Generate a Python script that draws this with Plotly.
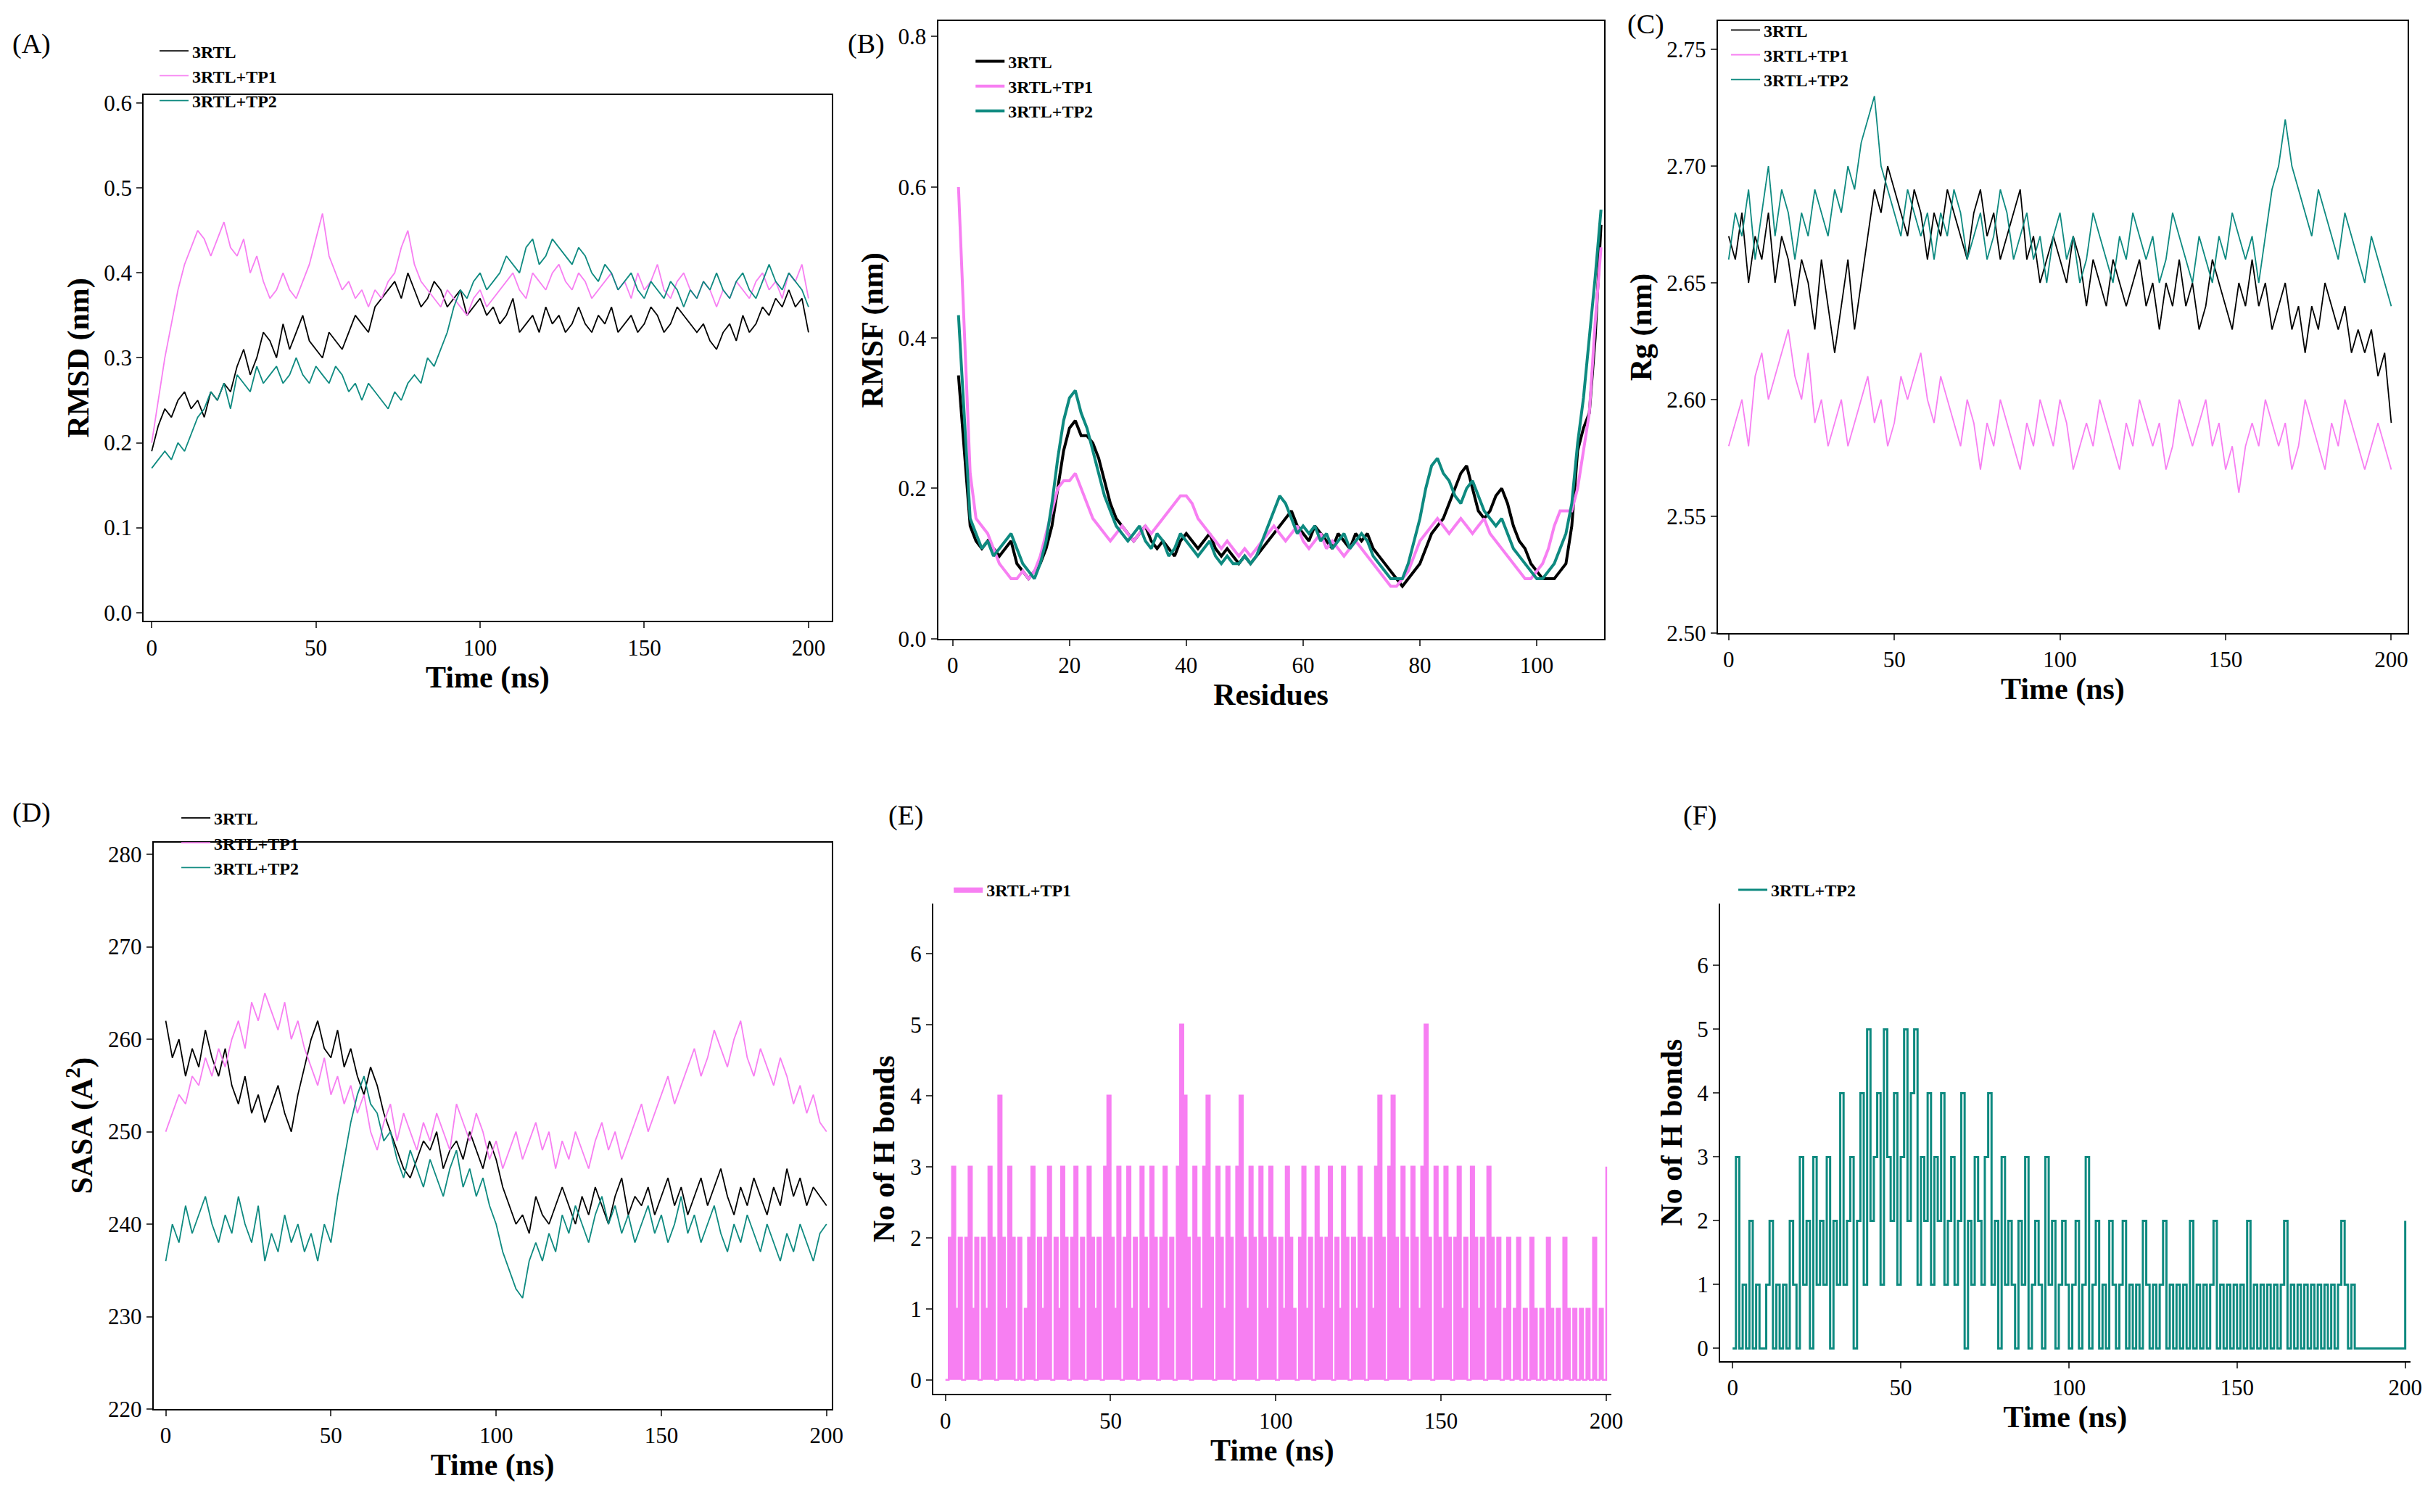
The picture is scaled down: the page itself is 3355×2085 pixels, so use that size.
import plotly.graph_objects as go

# ---- data (every 2 ns) ----
time = list(range(0, 202, 2))

rmsd_3rtl = [0.19,0.22,0.24,0.23,0.25,0.26,0.24,0.25,0.23,0.26,0.25,0.27,0.26,0.29,0.31,0.28,0.30,0.33,0.32,0.30,
             0.34,0.31,0.33,0.35,0.32,0.31,0.30,0.33,0.32,0.31,0.33,0.35,0.34,0.33,0.36,0.37,0.38,0.39,0.37,0.40,
             0.38,0.36,0.37,0.39,0.38,0.36,0.37,0.38,0.35,0.36,0.37,0.35,0.36,0.34,0.35,0.37,0.33,0.34,0.35,0.33,
             0.36,0.34,0.35,0.33,0.34,0.36,0.34,0.33,0.35,0.34,0.36,0.33,0.34,0.35,0.33,0.34,0.36,0.35,0.33,0.34,
             0.36,0.35,0.34,0.33,0.34,0.32,0.31,0.33,0.34,0.32,0.35,0.33,0.34,0.36,0.35,0.37,0.36,0.38,0.36,0.37,0.33]
rmsd_tp1 = [0.20,0.25,0.30,0.34,0.38,0.41,0.43,0.45,0.44,0.42,0.44,0.46,0.43,0.42,0.44,0.40,0.42,0.39,0.37,0.38,
            0.40,0.38,0.37,0.39,0.41,0.44,0.47,0.42,0.40,0.38,0.39,0.37,0.38,0.36,0.38,0.37,0.39,0.40,0.43,0.45,
            0.41,0.39,0.38,0.37,0.36,0.38,0.37,0.36,0.35,0.37,0.38,0.36,0.37,0.38,0.39,0.40,0.38,0.37,0.40,0.39,
            0.38,0.40,0.41,0.39,0.38,0.40,0.39,0.37,0.38,0.39,0.40,0.38,0.39,0.37,0.40,0.38,0.39,0.41,0.38,0.37,
            0.39,0.40,0.38,0.37,0.39,0.38,0.36,0.38,0.37,0.39,0.38,0.37,0.39,0.40,0.38,0.39,0.37,0.40,0.39,0.41,0.37]
rmsd_tp2 = [0.17,0.18,0.19,0.18,0.20,0.19,0.21,0.23,0.24,0.26,0.25,0.27,0.24,0.28,0.27,0.26,0.29,0.27,0.28,0.29,
            0.27,0.28,0.30,0.28,0.27,0.29,0.28,0.27,0.29,0.28,0.26,0.27,0.25,0.27,0.26,0.25,0.24,0.26,0.25,0.27,
            0.28,0.27,0.30,0.29,0.31,0.33,0.36,0.38,0.37,0.39,0.40,0.38,0.39,0.40,0.42,0.41,0.40,0.43,0.44,0.41,
            0.42,0.44,0.43,0.42,0.41,0.43,0.42,0.40,0.39,0.41,0.40,0.38,0.39,0.40,0.38,0.37,0.39,0.38,0.37,0.39,
            0.38,0.36,0.38,0.37,0.39,0.38,0.40,0.38,0.37,0.39,0.40,0.38,0.37,0.39,0.41,0.39,0.38,0.40,0.39,0.38,0.36]

rmsf_3rtl = [0.35,0.25,0.15,0.13,0.12,0.13,0.12,0.11,0.12,0.13,0.10,0.09,0.08,0.09,0.10,0.12,0.15,0.20,0.25,0.28,
             0.29,0.27,0.27,0.26,0.24,0.21,0.18,0.16,0.15,0.14,0.13,0.14,0.15,0.13,0.12,0.13,0.12,0.11,0.13,0.14,
             0.13,0.12,0.13,0.14,0.12,0.11,0.12,0.11,0.10,0.11,0.10,0.11,0.12,0.13,0.14,0.15,0.16,0.17,0.15,0.14,
             0.13,0.15,0.14,0.13,0.12,0.14,0.13,0.12,0.14,0.13,0.14,0.12,0.11,0.10,0.09,0.08,0.07,0.08,0.09,0.10,
             0.12,0.14,0.15,0.16,0.18,0.20,0.22,0.23,0.20,0.17,0.16,0.17,0.19,0.20,0.18,0.15,0.13,0.12,0.10,0.09,
             0.08,0.08,0.08,0.09,0.10,0.15,0.25,0.28,0.30,0.40,0.55]
rmsf_tp1 = [0.60,0.40,0.22,0.16,0.15,0.14,0.12,0.10,0.09,0.08,0.08,0.09,0.08,0.09,0.11,0.14,0.17,0.20,0.21,0.21,
            0.22,0.20,0.18,0.16,0.15,0.14,0.13,0.14,0.15,0.14,0.13,0.14,0.15,0.14,0.15,0.16,0.17,0.18,0.19,0.19,
            0.18,0.16,0.15,0.14,0.13,0.12,0.13,0.12,0.11,0.12,0.11,0.12,0.13,0.14,0.15,0.14,0.13,0.14,0.15,0.13,
            0.12,0.13,0.14,0.12,0.13,0.12,0.11,0.12,0.13,0.12,0.11,0.10,0.09,0.08,0.07,0.07,0.08,0.09,0.11,0.13,
            0.14,0.15,0.16,0.15,0.14,0.15,0.16,0.15,0.14,0.15,0.16,0.14,0.13,0.12,0.11,0.10,0.09,0.08,0.08,0.09,
            0.10,0.12,0.15,0.17,0.17,0.17,0.20,0.25,0.30,0.42,0.52]
rmsf_tp2 = [0.43,0.30,0.16,0.14,0.12,0.13,0.11,0.12,0.13,0.14,0.12,0.10,0.09,0.08,0.10,0.13,0.18,0.24,0.29,0.32,
            0.33,0.30,0.28,0.25,0.22,0.19,0.17,0.15,0.14,0.13,0.14,0.15,0.13,0.12,0.14,0.13,0.11,0.12,0.14,0.13,
            0.12,0.11,0.12,0.13,0.11,0.10,0.11,0.10,0.10,0.11,0.10,0.11,0.13,0.15,0.17,0.19,0.18,0.16,0.14,0.15,
            0.14,0.15,0.13,0.14,0.12,0.13,0.14,0.12,0.13,0.14,0.13,0.11,0.10,0.09,0.08,0.08,0.08,0.10,0.13,0.16,
            0.20,0.23,0.24,0.22,0.21,0.19,0.18,0.20,0.21,0.19,0.17,0.16,0.15,0.16,0.14,0.12,0.11,0.10,0.09,0.08,
            0.08,0.09,0.10,0.12,0.14,0.18,0.26,0.32,0.40,0.48,0.57]

rg_3rtl = [2.67,2.66,2.68,2.65,2.67,2.66,2.68,2.65,2.67,2.66,2.64,2.66,2.65,2.63,2.66,2.64,2.62,2.64,2.66,2.63,
           2.65,2.67,2.69,2.68,2.70,2.69,2.68,2.67,2.69,2.68,2.66,2.68,2.67,2.69,2.68,2.67,2.66,2.68,2.69,2.67,
           2.68,2.66,2.67,2.68,2.69,2.66,2.67,2.65,2.66,2.67,2.66,2.65,2.67,2.66,2.64,2.66,2.65,2.64,2.66,2.65,
           2.64,2.65,2.66,2.64,2.65,2.63,2.65,2.64,2.66,2.64,2.65,2.63,2.64,2.66,2.65,2.64,2.63,2.65,2.64,2.66,
           2.64,2.65,2.63,2.64,2.65,2.63,2.64,2.62,2.64,2.63,2.65,2.64,2.63,2.64,2.62,2.63,2.62,2.63,2.61,2.62,2.59]
rg_tp1 = [2.58,2.59,2.60,2.58,2.61,2.62,2.60,2.61,2.62,2.63,2.61,2.60,2.62,2.59,2.60,2.58,2.59,2.60,2.58,2.59,
          2.60,2.61,2.59,2.60,2.58,2.59,2.61,2.60,2.61,2.62,2.60,2.59,2.61,2.60,2.59,2.58,2.60,2.59,2.57,2.59,
          2.58,2.60,2.59,2.58,2.57,2.59,2.58,2.60,2.59,2.58,2.60,2.59,2.57,2.58,2.59,2.58,2.60,2.59,2.58,2.57,
          2.59,2.58,2.60,2.59,2.58,2.59,2.57,2.58,2.60,2.59,2.58,2.59,2.60,2.58,2.59,2.57,2.58,2.56,2.58,2.59,
          2.58,2.60,2.59,2.58,2.59,2.57,2.58,2.60,2.59,2.58,2.57,2.59,2.58,2.60,2.59,2.58,2.57,2.58,2.59,2.58,2.57]
rg_tp2 = [2.66,2.68,2.67,2.69,2.66,2.68,2.70,2.67,2.69,2.68,2.66,2.68,2.67,2.69,2.68,2.67,2.69,2.68,2.70,2.69,
          2.71,2.72,2.73,2.70,2.69,2.68,2.67,2.69,2.68,2.67,2.68,2.66,2.68,2.67,2.69,2.68,2.66,2.67,2.68,2.66,
          2.67,2.69,2.68,2.66,2.67,2.68,2.66,2.67,2.65,2.67,2.68,2.66,2.67,2.65,2.66,2.68,2.67,2.66,2.65,2.67,
          2.66,2.68,2.67,2.66,2.67,2.65,2.66,2.68,2.67,2.66,2.65,2.67,2.66,2.65,2.67,2.66,2.68,2.67,2.66,2.67,
          2.65,2.67,2.69,2.70,2.72,2.70,2.69,2.68,2.67,2.69,2.68,2.67,2.66,2.68,2.67,2.66,2.65,2.67,2.66,2.65,2.64]

sasa_3rtl = [262,258,260,256,259,257,261,258,256,259,255,253,256,252,254,251,253,255,252,250,
             254,257,260,262,259,258,261,257,259,256,254,257,255,252,250,248,246,245,247,249,
             248,250,246,248,249,247,250,248,246,249,247,244,242,240,241,239,243,241,240,242,
             244,242,240,243,241,244,242,240,243,245,241,243,242,244,241,243,245,242,244,241,
             243,245,242,244,246,243,241,244,242,245,243,241,244,242,246,243,245,242,244,243,242]
sasa_tp1 = [250,252,254,253,256,255,258,256,259,257,260,262,259,264,262,265,263,261,264,260,
            262,259,257,255,258,254,256,253,255,252,254,250,248,251,253,249,252,250,248,251,
            249,252,250,248,253,251,249,252,250,247,249,246,248,250,247,249,251,248,250,246,
            249,247,250,248,246,249,251,248,250,247,249,251,253,250,252,254,256,253,255,257,
            259,256,258,261,259,257,260,262,258,256,259,257,255,258,256,253,255,252,254,251,250]
sasa_tp2 = [236,240,238,242,239,241,243,240,238,241,239,243,240,238,242,236,239,237,241,238,
            240,237,239,236,240,238,243,247,251,254,256,253,252,249,250,247,245,248,246,244,
            247,245,243,246,248,244,246,243,245,242,240,237,235,233,232,236,238,236,239,237,
            241,239,242,240,238,241,243,240,242,239,241,238,240,242,239,241,238,240,243,239,
            241,238,240,242,239,237,240,238,241,239,237,240,238,236,239,237,240,238,236,239,240]

hb_time = list(range(0, 201))
hb_tp1 = [0,2,3,1,2,0,2,3,1,2,0,2,1,3,2,0,4,2,1,3,2,0,2,0,1,2,3,0,2,1,
          2,3,0,2,1,3,2,0,2,3,1,2,0,3,2,1,2,0,3,4,2,1,3,0,2,3,1,2,0,3,
          2,1,3,2,0,2,3,1,2,0,3,5,4,2,0,3,2,1,3,4,2,0,3,2,1,3,2,0,3,4,
          2,1,3,2,0,3,2,1,3,2,0,2,1,3,2,1,0,2,3,1,2,0,3,2,1,2,3,0,2,1,
          3,2,0,2,1,3,2,0,2,1,3,4,2,0,3,4,2,1,3,2,0,3,2,1,3,5,2,0,3,2,
          1,3,2,0,2,3,1,2,0,3,2,1,2,0,3,2,1,2,0,1,2,0,1,2,0,1,0,2,1,0,
          1,0,2,1,0,1,0,2,1,0,1,0,1,0,1,0,2,0,1,0,3]
hb_tp2 = [0,3,0,1,0,2,0,1,0,0,1,2,0,1,0,1,0,2,1,0,3,1,2,0,3,1,2,1,3,0,
          2,1,4,1,2,3,0,2,4,1,5,2,3,4,1,5,3,2,4,1,3,5,2,4,5,1,3,2,4,1,
          3,2,4,1,2,3,1,2,4,0,2,1,3,2,1,3,4,1,2,0,3,1,2,1,0,2,1,3,0,1,
          2,1,0,3,1,2,0,1,2,1,0,1,2,0,1,3,0,1,2,0,1,0,2,1,0,1,2,0,1,0,
          1,0,2,1,0,1,0,1,2,0,1,0,1,0,1,0,2,0,1,0,1,0,1,2,0,1,0,1,0,1,
          0,1,0,2,0,1,0,1,0,1,0,1,0,1,2,0,1,0,1,0,1,0,1,0,1,0,1,0,1,0,
          1,2,1,0,1,0,0,0,0,0,0,0,0,0,0,0,0,0,0,0,2]

residues = list(range(1, len(rmsf_3rtl) + 1))

BLACK = "#000000"
PINK = "#f77ff2"
TEAL = "#0e8a80"
FONT = "Liberation Serif"

fig = go.Figure()

def add(x, y, name, color, xa, ya, leg, width=1.8, shape="linear", fill=None):
    fig.add_trace(go.Scatter(x=x, y=y, name="<b>" + name + "</b>", mode="lines", xaxis=xa, yaxis=ya,
                             legend=leg, fill=fill, fillcolor=color,
                             line=dict(color=color, width=width, shape=shape)))

add(time, rmsd_3rtl, "3RTL", BLACK, "x", "y", "legend")
add(time, rmsd_tp1, "3RTL+TP1", PINK, "x", "y", "legend")
add(time, rmsd_tp2, "3RTL+TP2", TEAL, "x", "y", "legend")
add(residues, rmsf_3rtl, "3RTL", BLACK, "x2", "y2", "legend2", 4)
add(residues, rmsf_tp1, "3RTL+TP1", PINK, "x2", "y2", "legend2", 4)
add(residues, rmsf_tp2, "3RTL+TP2", TEAL, "x2", "y2", "legend2", 4)
add(time, rg_3rtl, "3RTL", BLACK, "x3", "y3", "legend3")
add(time, rg_tp1, "3RTL+TP1", PINK, "x3", "y3", "legend3")
add(time, rg_tp2, "3RTL+TP2", TEAL, "x3", "y3", "legend3")
add(time, sasa_3rtl, "3RTL", BLACK, "x4", "y4", "legend4")
add(time, sasa_tp1, "3RTL+TP1", PINK, "x4", "y4", "legend4")
add(time, sasa_tp2, "3RTL+TP2", TEAL, "x4", "y4", "legend4")
add(hb_time, hb_tp1, "3RTL+TP1", PINK, "x5", "y5", "legend5", 2.5, "hv", "tozeroy")
add(hb_time, hb_tp2, "3RTL+TP2", TEAL, "x6", "y6", "legend6", 3, "hv")

tickf = dict(family=FONT, size=31, color="black")
titf = dict(family=FONT, size=42, color="black")

def ax(domain, rng, dtick, title, anchor, mirror=True, fmt=None):
    d = dict(domain=domain, range=rng, dtick=dtick, tick0=0, anchor=anchor,
             showline=True, linecolor="black", linewidth=2, mirror=mirror,
             ticks="outside", ticklen=8, tickwidth=2, showgrid=False, zeroline=False,
             tickfont=tickf, title=dict(text="<b>" + title + "</b>", font=titf, standoff=8))
    if fmt:
        d["tickformat"] = fmt
    return d

lay = dict(
    xaxis=ax([0.057, 0.341], [-2.4, 207], 50, "Time (ns)", "y"),
    yaxis=ax([0.591, 0.943], [-0.01, 0.61], 0.1, "RMSD (nm)", "x", fmt=".1f"),
    xaxis2=ax([0.385, 0.660], [-2.5, 111.5], 20, "Residues", "y2"),
    yaxis2=ax([0.579, 0.992], [0, 0.82], 0.2, "RMSF (nm)", "x2", fmt=".1f"),
    xaxis3=ax([0.707, 0.992], [-3.3, 205], 50, "Time (ns)", "y3"),
    yaxis3=ax([0.583, 0.992], [2.50, 2.762], 0.05, "Rg (nm)", "x3", fmt=".2f"),
    xaxis4=ax([0.061, 0.341], [-3.7, 201.5], 50, "Time (ns)", "y4"),
    yaxis4=ax([0.064, 0.443], [220, 281.3], 10, "SASA (A<sup>2</sup>)", "x4"),
    xaxis5=ax([0.383, 0.663], [-3.7, 201.5], 50, "Time (ns)", "y5", mirror=False),
    yaxis5=ax([0.074, 0.402], [-0.2, 6.7], 1, "No of H bonds", "x5", mirror=False),
    xaxis6=ax([0.708, 0.993], [-3.7, 201.5], 50, "Time (ns)", "y6", mirror=False),
    yaxis6=ax([0.096, 0.402], [-0.2, 6.97], 1, "No of H bonds", "x6", mirror=False),
)
fig.update_layout(**lay)

legpos = {"legend": (0.062, 0.983), "legend2": (0.399, 0.976), "legend3": (0.711, 0.997),
          "legend4": (0.071, 0.470), "legend5": (0.390, 0.422), "legend6": (0.714, 0.422)}
for k, (x, y) in legpos.items():
    fig.update_layout({k: dict(x=x, y=y, xanchor="left", yanchor="top", bgcolor="rgba(0,0,0,0)",
                               font=dict(family=FONT, size=24, color="black"),
                               tracegroupgap=0, itemwidth=40)})

labels = [("(A)", 0.002, 0.977), ("(B)", 0.347, 0.977), ("(C)", 0.669, 0.99),
          ("(D)", 0.002, 0.463), ("(E)", 0.364, 0.461), ("(F)", 0.692, 0.461)]
for t, x, y in labels:
    fig.add_annotation(text=t, x=x, y=y, xref="paper", yref="paper", showarrow=False,
                       xanchor="left", yanchor="middle", font=dict(family=FONT, size=38, color="black"))

fig.update_layout(width=3355, height=2085, margin=dict(l=0, r=0, t=0, b=0),
                  paper_bgcolor="white", plot_bgcolor="white", showlegend=True)
fig.write_html("out.html")
